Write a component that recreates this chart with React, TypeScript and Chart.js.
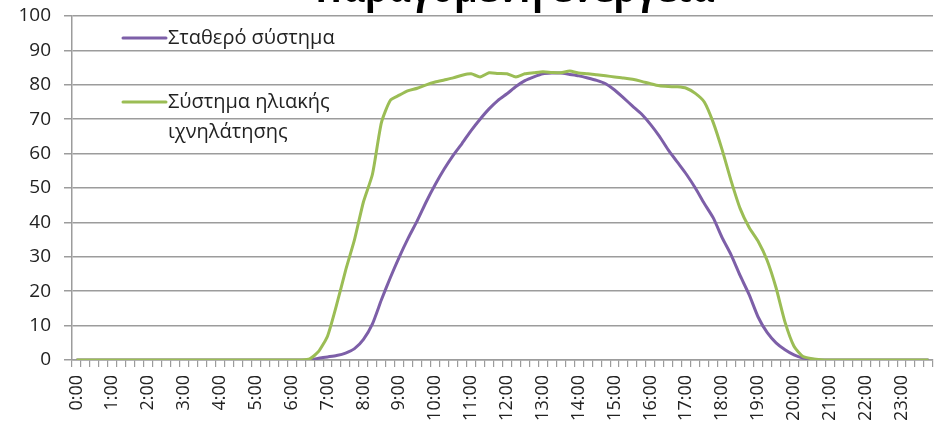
import React, { useEffect, useRef } from 'react';
import { Chart, registerables } from 'chart.js';

Chart.register(...registerables);

const TITLE = 'Παραγόμενη ενέργεια';
const hourLabels = ['0:00', '1:00', '2:00', '3:00', '4:00', '5:00', '6:00', '7:00', '8:00', '9:00', '10:00', '11:00',
  '12:00', '13:00', '14:00', '15:00', '16:00', '17:00', '18:00', '19:00', '20:00', '21:00', '22:00', '23:00'];
const quarterSuffixes = ['00', '15', '30', '45'];
const yTicks = [0, 10, 20, 30, 40, 50, 60, 70, 80, 90, 100];

const fixedLabel = 'Σταθερό σύστημα';
const trackingLabel = ['Σύστημα ηλιακής', 'ιχνηλάτησης'];

const fixedSystem = [
  0, 0, 0, 0, 0, 0, 0, 0, 0, 0, 0, 0, 0, 0, 0, 0, 0, 0, 0, 0, 0, 0, 0, 0, 0, 0,
  0.1, 0.5, 0.9, 1.3, 2, 3.3, 6, 10.5, 17.5, 24, 30, 35.5, 40.5, 46,
  51, 55.5, 59.5, 63, 66.7, 70, 73, 75.5, 77.4, 79.5, 81.2, 82.3, 83.2, 83.4,
  83.4, 83, 82.6, 82, 81.3, 80.3, 78.5, 76.2, 73.8, 71.5, 68.5, 65, 61, 57.5,
  54, 50, 45.5, 41.3, 35.5, 30.5, 24.5, 19, 12.5, 8, 5, 3, 1.5, 0.6, 0.2,
  0, 0, 0, 0, 0, 0, 0, 0, 0, 0, 0, 0, 0,
];

const trackingSystem = [
  0, 0, 0, 0, 0, 0, 0, 0, 0, 0, 0, 0, 0, 0, 0, 0, 0, 0, 0, 0, 0, 0, 0, 0, 0, 0,
  0.3, 2.5, 7, 16, 26, 35, 46, 54, 69, 75.5, 77, 78.3, 79, 80,
  80.8, 81.4, 82, 82.8, 83.2, 82.3, 83.5, 83.3, 83.2, 82.3, 83.2, 83.5, 83.8, 83.6,
  83.5, 84, 83.4, 83.2, 82.9, 82.6, 82.3, 82, 81.6, 81, 80.3, 79.7, 79.5, 79.4,
  79, 77.5, 75, 69, 61, 52, 44, 38.5, 34.5, 29, 21, 11, 4, 1, 0.4, 0.1,
  0, 0, 0, 0, 0, 0, 0, 0, 0, 0, 0, 0,
];

const PURPLE = '#7d5fa8';
const GREEN = '#9bbd55';
const GRID = '#9c9c9c';
const TEXT = '#222222';

const categories: string[] = [];
hourLabels.forEach((h) => {
  const base = h.split(':')[0];
  quarterSuffixes.forEach((q) => categories.push(base + ':' + q));
});

const overlayPlugin = {
  id: 'overlay',
  afterDraw(chart: any) {
    const ctx = chart.ctx as CanvasRenderingContext2D;
    ctx.save();
    // title (mostly cut off at the top edge)
    ctx.save();
    ctx.translate(515, 1.5);
    ctx.scale(0.82, 1);
    ctx.font = 'bold 44px "Open Sans"';
    ctx.fillStyle = '#000';
    ctx.textAlign = 'center';
    ctx.textBaseline = 'alphabetic';
    ctx.fillText(TITLE, 0, 0);
    ctx.restore();

    // legend
    ctx.font = '20px "Open Sans"';
    ctx.fillStyle = TEXT;
    ctx.textAlign = 'left';
    ctx.textBaseline = 'middle';
    ctx.lineCap = 'round';
    ctx.lineWidth = 3;
    ctx.strokeStyle = PURPLE;
    ctx.beginPath();
    ctx.moveTo(123, 38);
    ctx.lineTo(166, 38);
    ctx.stroke();
    ctx.fillText(fixedLabel, 168, 38);

    ctx.strokeStyle = GREEN;
    ctx.beginPath();
    ctx.moveTo(123, 102);
    ctx.lineTo(166, 102);
    ctx.stroke();
    ctx.fillText(trackingLabel[0], 168, 102);
    ctx.fillText(trackingLabel[1], 168, 132);
    ctx.restore();
  },
};

export default function App() {
  const canvasRef = useRef<HTMLCanvasElement | null>(null);

  useEffect(() => {
    const canvas = canvasRef.current;
    if (!canvas) return;
    const chart = new Chart(canvas, {
      type: 'line',
      data: {
        labels: categories,
        datasets: [
          {
            label: fixedLabel,
            data: fixedSystem,
            borderColor: PURPLE,
            backgroundColor: PURPLE,
            borderWidth: 3,
            pointRadius: 0,
            tension: 0.2,
            order: 1,
          },
          {
            label: trackingLabel.join(' '),
            data: trackingSystem,
            borderColor: GREEN,
            backgroundColor: GREEN,
            borderWidth: 3,
            pointRadius: 0,
            tension: 0.2,
            order: 0,
          },
        ],
      },
      options: {
        responsive: false,
        animation: false,
        layout: { padding: { top: 16, right: 4, left: 0, bottom: 0 } },
        plugins: {
          legend: { display: false },
          title: { display: false },
          tooltip: { enabled: false },
        },
        scales: {
          x: {
            type: 'category',
            offset: true,
            grid: {
              offset: true,
              drawOnChartArea: false,
              drawTicks: true,
              tickLength: 7,
              color: GRID,
              lineWidth: 1.2,
            },
            border: { display: true, color: GRID, width: 1.5 },
            ticks: {
              autoSkip: false,
              minRotation: 90,
              maxRotation: 90,
              padding: 8,
              color: TEXT,
              font: { family: '"Open Sans"', size: 18 },
              callback: (_v: any, i: number) => (i % 4 === 0 ? hourLabels[i / 4] : ''),
            },
            afterFit: (scale: any) => {
              scale.height = 71;
              scale.paddingLeft = 0;
              scale.paddingRight = 0;
            },
          },
          y: {
            min: 0,
            max: 100,
            afterBuildTicks: (scale: any) => {
              scale.ticks = yTicks.map((v) => ({ value: v }));
            },
            grid: {
              color: GRID,
              lineWidth: 1.5,
              drawTicks: true,
              tickLength: 8,
            },
            border: { display: true, color: GRID, width: 1.5 },
            ticks: {
              padding: 13,
              color: TEXT,
              font: { family: '"Open Sans"', size: 19 },
            },
            afterFit: (scale: any) => {
              scale.width = 72;
              scale.paddingTop = 0;
              scale.paddingBottom = 0;
            },
          },
        },
      },
      plugins: [overlayPlugin],
    });
    return () => chart.destroy();
  }, []);

  return (
    <div style={{ position: 'absolute', left: 0, top: 0, width: 937, height: 431, background: '#fff' }}>
      <canvas ref={canvasRef} width={937} height={431} style={{ display: 'block' }} />
    </div>
  );
}
